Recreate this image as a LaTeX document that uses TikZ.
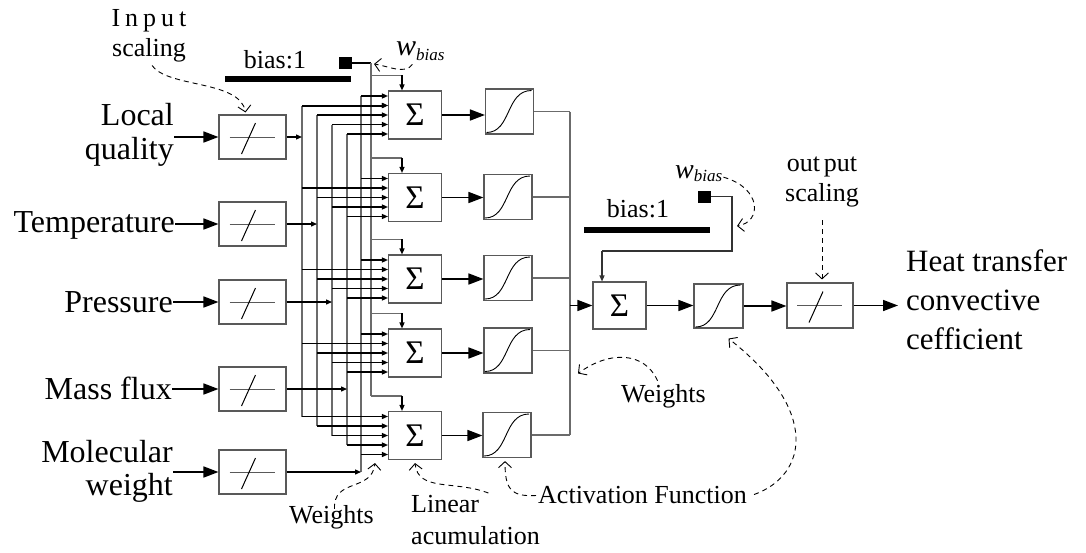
\documentclass[tikz,border=0pt]{standalone}
\usepackage{fontspec}
\setmainfont{Liberation Serif}
\usetikzlibrary{arrows.meta,calc}
\definecolor{boxgray}{gray}{0.35}
\definecolor{busgray}{gray}{0.42}
\tikzset{
 scbox/.style={draw=boxgray, line width=1.1pt, minimum width=67pt, minimum height=44pt, inner sep=0pt},
 sumbox/.style={draw=boxgray, line width=1.1pt, minimum width=53pt, minimum height=48pt, inner sep=0pt, font=\fontsize{33}{33}\selectfont},
 sigbox/.style={draw=boxgray, line width=1.1pt, minimum width=48pt, minimum height=45pt, inner sep=0pt},
 biglab/.style={inner sep=0pt, font=\fontsize{32}{34}\selectfont},
 midlab/.style={inner sep=0pt, font=\fontsize{26}{30}\selectfont},
 bigarr/.style={line width=1.6pt, -{Triangle[length=15pt,width=11pt]}},
 smallarr/.style={line width=1.3pt, -{Triangle[length=6pt,width=5pt]}},
 bus/.style={draw=busgray, line width=1.1pt},
 ann/.style={line width=0.9pt, dash pattern=on 5pt off 4pt, -{Straight Barb[length=6pt,width=13pt]}},
 sq/.style={fill=black, minimum width=13pt, minimum height=12pt, inner sep=0pt},
}
\begin{document}
\begin{tikzpicture}[x=1pt,y=-1pt]
\useasboundingbox (0,0) rectangle (1086,552);

% input scaling boxes
\node[scbox] (sc1) at (252.5,137) {};
\node[scbox] (sc2) at (252.5,224) {};
\node[scbox] (sc3) at (252.5,302) {};
\node[scbox] (sc4) at (252.5,389) {};
\node[scbox] (sc5) at (252.5,472) {};
\node[scbox, minimum width=66pt, minimum height=45pt] (OSC) at (820,305.5) {};
\foreach \n in {sc1,sc2,sc3,sc4,sc5,OSC} {
  \draw[boxgray, line width=1pt] ($(\n.center)+(-23,0)$) -- ($(\n.center)+(22,0)$);
  \draw[line width=1pt] ($(\n.center)+(-11,17)$) -- ($(\n.center)+(3,-14)$);
}

% input labels
\node[biglab, anchor=east, align=right] (L1) at (174,135) {Local\\quality};
\node[biglab, anchor=east] (L2) at (175,225) {Temperature};
\node[biglab, anchor=east] (L3) at (173,302) {Pressure};
\node[biglab, anchor=east] (L4) at (172,388) {Mass flux};
\node[biglab, anchor=east, align=right, font=\fontsize{32}{33}\selectfont] (L5) at (173,471) {Molecular\\weight};
\foreach \i in {1,...,5} {
  \draw[bigarr] (sc\i.west -| L\i.east) -- (sc\i.west);
}

% summation and sigmoid boxes
\node[sumbox] (S1) at (415,115) {Σ};
\node[sumbox] (S2) at (415,197.5) {Σ};
\node[sumbox] (S3) at (415,279) {Σ};
\node[sumbox] (S4) at (415,353) {Σ};
\node[sumbox] (S5) at (415,435.5) {Σ};
\node[sigbox] (G1) at (509.5,111.5) {};
\node[sigbox] (G2) at (508,197) {};
\node[sigbox] (G3) at (508,278) {};
\node[sigbox] (G4) at (508,350.5) {};
\node[sigbox] (G5) at (507,435) {};
\node[sumbox, minimum height=47pt] (OS) at (619.5,305.5) {Σ};
\node[sigbox, minimum width=49pt, minimum height=44pt] (OG) at (718.5,306) {};
\foreach \n in {G1,G2,G3,G4,G5,OG} {
  \draw[line width=0.9pt] ($(\n.center)+(-23,21)$) .. controls ($(\n.center)+(2,21)$) and ($(\n.center)+(-4,-21)$) .. ($(\n.center)+(22,-21)$);
}

% bus coordinates
\coordinate (V1) at (302,0);
\coordinate (V2) at (317,0);
\coordinate (V3) at (332,0);
\coordinate (V4) at (347,0);
\coordinate (V5) at (361,0);
\coordinate (VB) at (371,0);
\coordinate (VO) at (570,0);
\foreach \k in {1,...,5} {
  \foreach \j/\o in {1/-19,2/-9.5,3/0,4/9.5,5/19} {
    \coordinate (p\k\j) at ($(S\k.west)+(0,\o)$);
  }
  \coordinate (b\k) at ($(S\k.north)+(-13,-15)$);
}

% vertical input buses
\draw[bus] (p12 -| V1) -- (p51 -| V1);
\draw[bus] (p13 -| V2) -- (p52 -| V2);
\draw[bus] (p14 -| V3) -- (p53 -| V3);
\draw[bus] (p15 -| V4) -- (p54 -| V4);
\draw[bus] (p11 -| V5) -- (sc5.east -| V5);

% bias line
\node[sq] (bsq) at (345.5,63) {};
\fill (225,76) rectangle (351,82);
\node[midlab] (bt1) at (275,60) {bias:1};
\draw[line width=1.3pt] (bsq.east) -- (bsq.east -| VB);
\draw[bus] (bsq.east -| VB) -- (b5 -| VB);
\foreach \k in {1,...,5} {
  \draw[bus] (b\k -| VB) -- (b\k);
  \draw[smallarr] (b\k) -- (b\k |- S\k.north);
}

% scaled inputs into buses
\draw[smallarr] (sc1.east) -- (sc1.east -| V1);
\draw[smallarr] (sc2.east) -- (sc2.east -| V2);
\draw[smallarr] (sc3.east) -- (sc3.east -| V3);
\draw[smallarr] (sc4.east) -- (sc4.east -| V4);
\draw[smallarr] (sc5.east) -- (sc5.east -| V5);

% branches into summations
\foreach \k in {1,2,3,4} {
  \draw[smallarr] (p\k1 -| V5) -- (p\k1);
  \draw[smallarr] (p\k2 -| V1) -- (p\k2);
  \draw[smallarr] (p\k3 -| V2) -- (p\k3);
  \draw[smallarr] (p\k4 -| V3) -- (p\k4);
  \draw[smallarr] (p\k5 -| V4) -- (p\k5);
}
\draw[smallarr, line width=2pt] (p12 -| V1) -- (p12);
\draw[smallarr] (p51 -| V1) -- (p51);
\draw[smallarr] (p52 -| V2) -- (p52);
\draw[smallarr] (p53 -| V3) -- (p53);
\draw[smallarr] (p54 -| V4) -- (p54);
\draw[smallarr] (p55 -| V5) -- (p55);

% sums to sigmoids
\foreach \k in {1,...,5} {
  \draw[bigarr] (S\k.east) -- (S\k.east -| G\k.west);
  \draw[bus] (G\k.east) -- (G\k.east -| VO);
}
\draw[bus] (G1.east -| VO) -- (G5.east -| VO);
\draw[bigarr] (OS.west -| VO) -- (OS.west);
\draw[bigarr] (OS.east) -- (OS.east -| OG.west);
\draw[bigarr] (OG.east) -- (OG.east -| OSC.west);

% output bias
\node[sq] (osq) at (704.5,196.5) {};
\fill (584,227) rectangle (710,233);
\node[midlab] (bt2) at (638,209) {bias:1};
\coordinate (ob1) at (732,251);
\coordinate (ob2) at (602,251);
\draw[line width=1.1pt, draw=black!80] (osq.east) -| (ob1) -- (ob2);
\draw[smallarr, line width=1.1pt, draw=black!80] (ob2) -- (ob2 |- OS.north);

% output label
\node[biglab, anchor=west, align=left, font=\fontsize{31}{39}\selectfont] (HT) at (906,300) {Heat transfer\\convective\\cefficient};
\draw[bigarr] (OSC.east) -- ($(OSC.east -| HT.west)+(-8,0)$);

% annotations
\node[midlab, align=center] (tin) at (149,36) {I\hspace{5pt}n\hspace{5pt}p\hspace{5pt}u\hspace{5pt}t\\scaling};
\draw[ann] ($(tin.south)+(3,3)$) .. controls (168,88) and (240,80) .. ($(sc1.north)+(-7,-2)$);

\node[inner sep=0pt, anchor=base west] (wb1) at (396,55) {{\fontsize{30}{30}\selectfont\itshape w}{\fontsize{17}{17}\selectfont\itshape\raisebox{-5pt}{bias}}};
\draw[ann] ($(wb1.south)+(-8,4)$) .. controls (405,75) and (388,66) .. ($(bsq.east -| VB)+(3,1)$);

\node[inner sep=0pt, anchor=base west] (wb2) at (675,178) {{\fontsize{28}{28}\selectfont\itshape w}{\fontsize{17}{17}\selectfont\itshape\raisebox{-3pt}{bias}}};
\draw[ann] ($(wb2.east)+(1,4)$) .. controls (762,188) and (762,222) .. ($(ob1)+(5,-25)$);

\node[midlab, align=center] (tout) at (822,182) {out\hspace{4pt}put\\scaling};
\draw[ann] ($(tout.south)+(0,13)$) -- ($(OSC.north)+(2,-3)$);

\node[midlab, anchor=base] (wl) at (331.5,523) {Weights};
\draw[ann] ($(wl.north)+(3,4)$) .. controls (333,478) and (372,492) .. ($(S5.south west)+(-13,3)$);

\node[midlab, anchor=west, align=left, font=\fontsize{26}{32}\selectfont] (lin) at (411,520) {Linear\\acumulation};
\draw[ann] ($(lin.north)+(13,-2)$) .. controls (455,480) and (418,492) .. ($(S5.south)+(0,3)$);

\node[midlab, anchor=base west] (act) at (538,503) {Activation Function};
\draw[ann] ($(act.west)+(-2,1)$) .. controls (510,497) and (505,488) .. ($(G5.south)+(-2,3)$);
\draw[ann] ($(act.east)+(7,0)$) .. controls (808,475) and (820,410) .. ($(OG.south)+(10,10)$);

\node[midlab, anchor=base] (wr) at (663.5,402) {Weights};
\draw[ann] ($(wr.north)+(-6,-3)$) .. controls (645,352) and (610,350) .. ($(G4.east -| VO)+(8,23)$);
\end{tikzpicture}
\end{document}
